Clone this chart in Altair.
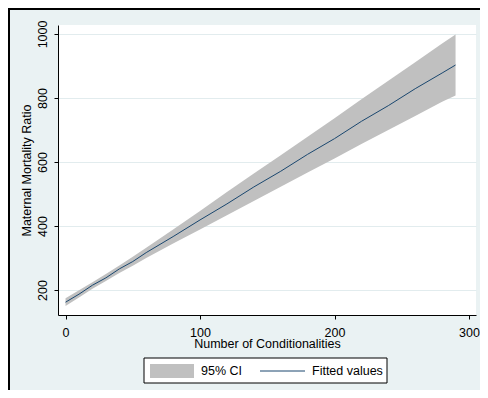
import altair as alt
import pandas as pd

# Data
conditionalities = [0, 10, 20, 30, 40, 50, 60, 80, 100, 120, 140, 160, 180, 200, 220, 240, 260, 280, 290]
fitted = [162, 187, 215, 238, 266, 289, 317, 367, 419, 469, 522, 571, 624, 673, 727, 776, 829, 878, 903]
ci_lower = [150, 177, 204, 228, 253, 276, 300, 345, 389, 434, 478, 523, 567, 611, 656, 700, 744, 788, 808]
ci_upper = [174, 199, 224, 250, 277, 304, 332, 389, 447, 506, 564, 621, 679, 737, 796, 854, 912, 970, 998]

x_ticks = [0, 100, 200, 300]
y_ticks = [200, 400, 600, 800, 1000]
legend_labels = ["95% CI", "Fitted values"]

df = pd.DataFrame({"x": conditionalities, "fit": fitted, "lo": ci_lower, "hi": ci_upper})

FONT = "Liberation Sans"
BG = "#EAF2F3"
CI_COLOR = "#C0C0C0"
LINE_COLOR = "#1A476F"

xs = alt.Scale(domain=[-5.6, 305.2], nice=False, zero=False)
ys = alt.Scale(domain=[122, 1028], nice=False, zero=False)

x_axis = alt.Axis(values=x_ticks, grid=False, title="Number of Conditionalities", format="d",
                  domainColor="#000000", tickColor="#000000", tickSize=4,
                  labelFontSize=12.5, labelFont=FONT, labelColor="#000000", labelPadding=7,
                  titleFont=FONT, titleFontSize=12.5, titleFontWeight="normal", titleColor="#000000",
                  titleY=32, titleBaseline="alphabetic")
y_axis = alt.Axis(values=y_ticks, grid=True, gridColor="#E2ECEE", title="Maternal Mortality Ratio", format="d",
                  domainColor="#000000", tickColor="#000000", tickSize=4,
                  labelFontSize=12.5, labelFont=FONT, labelColor="#000000", labelAngle=270,
                  labelAlign="center", labelBaseline="bottom", labelPadding=5,
                  titleFont=FONT, titleFontSize=12.5, titleFontWeight="normal", titleColor="#000000",
                  titleX=-25, titleBaseline="bottom")

base = alt.Chart(df)
band = base.mark_area(color=CI_COLOR, opacity=1).encode(
    x=alt.X("x:Q", scale=xs, axis=x_axis),
    y=alt.Y("lo:Q", scale=ys, axis=y_axis),
    y2="hi:Q",
)
line = base.mark_line(color=LINE_COLOR, strokeWidth=1).encode(
    x=alt.X("x:Q", scale=xs),
    y=alt.Y("fit:Q", scale=ys),
)

one = alt.Data(values=[{}])
deco = []
# outer frame (top and left)
deco.append(alt.Chart(one).mark_rule(color="#000000", strokeWidth=2).encode(
    x=alt.value(-50), x2=alt.value(430), y=alt.value(-16)))
deco.append(alt.Chart(one).mark_rule(color="#000000", strokeWidth=2).encode(
    x=alt.value(-49), y=alt.value(-17), y2=alt.value(380)))
# legend box
deco.append(alt.Chart(one).mark_rect(fill="#FFFFFF", stroke="#000000", strokeWidth=1).encode(
    x=alt.value(86), x2=alt.value(329), y=alt.value(333), y2=alt.value(358)))
deco.append(alt.Chart(one).mark_rect(fill=CI_COLOR).encode(
    x=alt.value(92), x2=alt.value(136), y=alt.value(339), y2=alt.value(353)))
deco.append(alt.Chart(one).mark_rule(color=LINE_COLOR, strokeWidth=1).encode(
    x=alt.value(202), x2=alt.value(247), y=alt.value(346)))
deco.append(alt.Chart(one).mark_text(font=FONT, fontSize=12.5, align="left", baseline="middle", color="#000000").encode(
    x=alt.value(143), y=alt.value(346), text=alt.value(legend_labels[0])))
deco.append(alt.Chart(one).mark_text(font=FONT, fontSize=12.5, align="left", baseline="middle", color="#000000").encode(
    x=alt.value(254), y=alt.value(346), text=alt.value(legend_labels[1])))

chart = alt.layer(band, line, *deco).properties(
    width=418, height=290,
    autosize=alt.AutoSizeParams(type="none"),
    padding={"left": 50, "top": 17, "right": 4, "bottom": 75},
    background=BG,
).configure_view(fill="#FFFFFF", stroke=None)

chart.save("out.html", embed_options={"renderer": "svg", "actions": False})
